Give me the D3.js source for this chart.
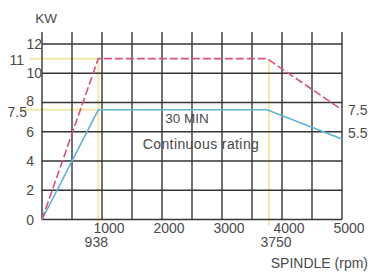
<!DOCTYPE html>
<html><head><meta charset="utf-8">
<script src="https://cdn.jsdelivr.net/npm/d3@7"></script>
<style>
html,body{margin:0;padding:0;background:#fff;}
svg text{font-family:"Liberation Sans",Arial,sans-serif;fill:#4a4a4a;}
</style></head>
<body><svg id="c" width="368" height="272"></svg>
<script>
// ---- data ----
const rpmGrid = [0,500,1000,1500,2000,2500,3000,3500,4000,4500,5000];
const kwGrid = [0,2,4,6,8,10,12];
const xTickLabels = [1000,2000,3000,4000,5000];
const yTickLabels = [0,2,4,6,8,10,12];
const markRpm = [938, 3750];
const markKw = [11, 7.5];
const rating30Rpm = [0, 938, 3750, 5000];
const rating30Kw = [0, 11, 11, 7.5];
const contRpm = [0, 938, 3750, 5000];
const contKw = [0, 7.5, 7.5, 5.5];
const endLabels = ["7.5","5.5"];

const svg = d3.select("#c");
const x = d3.scaleLinear().domain([0,5000]).range([42,342]);
const y = d3.scaleLinear().domain([0,12]).range([219.5,44]);

// guide (yellow) lines
const yellow = "#f3e9a6";
svg.append("line").attr("x1",x(0)-12).attr("x2",x(markRpm[0])).attr("y1",y(markKw[0])).attr("y2",y(markKw[0]))
  .attr("stroke",yellow).attr("stroke-width",2);
svg.append("line").attr("x1",x(0)-20).attr("x2",x(markRpm[0])).attr("y1",y(markKw[1])).attr("y2",y(markKw[1]))
  .attr("stroke",yellow).attr("stroke-width",2);
svg.append("line").attr("x1",x(markRpm[0])).attr("x2",x(markRpm[0])).attr("y1",y(markKw[0])).attr("y2",y(0)+6)
  .attr("stroke",yellow).attr("stroke-width",2);
svg.append("line").attr("x1",x(markRpm[1])+2).attr("x2",x(markRpm[1])+2).attr("y1",y(markKw[0])).attr("y2",y(0)+6)
  .attr("stroke",yellow).attr("stroke-width",2);

// grid
const gc = "#353535";
svg.append("g").selectAll("line").data(rpmGrid).join("line")
  .attr("x1",d=>x(d)).attr("x2",d=>x(d)).attr("y1",32).attr("y2",y(0))
  .attr("stroke",gc).attr("stroke-width",1.4);
svg.append("g").selectAll("line").data(kwGrid).join("line")
  .attr("x1",x(0)).attr("x2",x(5000)).attr("y1",d=>y(d)).attr("y2",d=>y(d))
  .attr("stroke",gc).attr("stroke-width",1.4);

// series
const line = d3.line().x(d=>x(d[0])).y(d=>y(d[1]));
svg.append("path").datum(contRpm.map((r,i)=>[r,contKw[i]])).attr("d",line)
  .attr("fill","none").attr("stroke","#5db3d8").attr("stroke-width",1.6);
svg.append("path").datum(rating30Rpm.map((r,i)=>[r,rating30Kw[i]])).attr("d",line)
  .attr("fill","none").attr("stroke","#d9507f").attr("stroke-width",1.6).attr("stroke-dasharray","8,3");

// y tick labels
svg.append("g").selectAll("text").data(yTickLabels).join("text")
  .attr("x",d=>d>=10?42:34).attr("y",d=>y(d)+(d===8?-2:0)).attr("dy","0.36em")
  .attr("text-anchor","end").attr("font-size",14).text(d=>d);
svg.append("text").attr("x",24).attr("y",y(11)+1.5).attr("dy","0.36em").attr("text-anchor","end").attr("font-size",14).text("11");
svg.append("text").attr("x",27).attr("y",y(7.5)+2).attr("dy","0.36em").attr("text-anchor","end").attr("font-size",14).text("7.5");
svg.append("text").attr("x",46).attr("y",18).attr("dy","0.36em").attr("text-anchor","middle").attr("font-size",13.5).text("KW");

// x tick labels
svg.append("g").selectAll("text").data(xTickLabels).join("text")
  .attr("x",d=>x(d)+7).attr("y",228).attr("dy","0.36em")
  .attr("text-anchor","middle").attr("font-size",14).text(d=>d);
svg.append("text").attr("x",x(markRpm[0])-2).attr("y",241.5).attr("dy","0.36em").attr("text-anchor","middle").attr("font-size",14).text(markRpm[0]);
svg.append("text").attr("x",x(markRpm[1])+9).attr("y",242).attr("dy","0.36em").attr("text-anchor","middle").attr("font-size",14).text(markRpm[1]);
svg.append("text").attr("x",368).attr("y",263).attr("dy","0.36em").attr("text-anchor","end").attr("font-size",14).text("SPINDLE (rpm)");

// end labels
svg.append("text").attr("x",348).attr("y",110).attr("dy","0.36em").attr("font-size",14).text(endLabels[0]);
svg.append("text").attr("x",348).attr("y",133).attr("dy","0.36em").attr("font-size",14).text(endLabels[1]);

// annotations
svg.append("text").attr("x",187).attr("y",118).attr("dy","0.36em").attr("text-anchor","middle").attr("font-size",13.5).text("30 MIN");
svg.append("text").attr("x",201).attr("y",144).attr("dy","0.36em").attr("text-anchor","middle").attr("font-size",14).attr("letter-spacing",0.4).text("Continuous rating");
</script></body></html>
